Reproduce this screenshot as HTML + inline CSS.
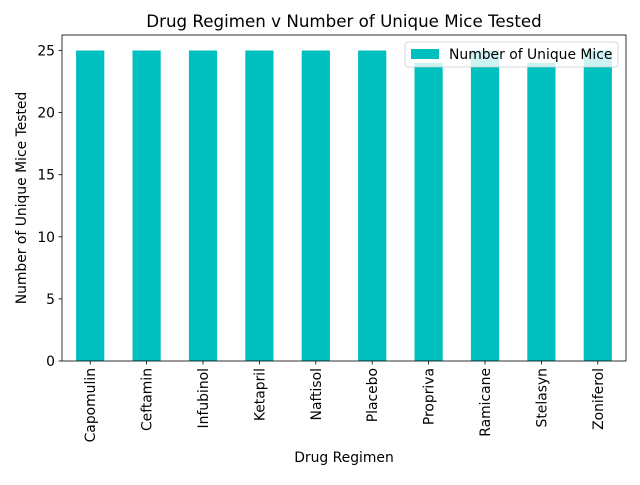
<!DOCTYPE html>
<html><head><meta charset="utf-8"><style>body{margin:0;background:#fff}svg{font-family:"DejaVu Sans","Liberation Sans",sans-serif}</style></head>
<body>
<svg id="c" width="640" height="480" viewBox="0 0 640 480"></svg>
<script>
const categories=["Capomulin","Ceftamin","Infubinol","Ketapril","Naftisol","Placebo","Propriva","Ramicane","Stelasyn","Zoniferol"];
const values=[25,25,25,25,25,25,24,25,24,25];
const yTicks=[0,5,10,15,20,25];
const NS="http://www.w3.org/2000/svg";
const svg=document.getElementById('c');
const L=62,R=626,T=35,B=361,yMax=26.25;
const slot=(R-L)/categories.length;
const xc=i=>L+slot*(i+0.5);
const y=v=>B-(v/yMax)*(B-T);
function mk(t,a,p){const e=document.createElementNS(NS,t);for(const k in a)e.setAttribute(k,a[k]);(p||svg).appendChild(e);return e;}
categories.forEach((c,i)=>{
 const r=mk('rect',{x:xc(i)-slot/4,y:y(values[i]),width:slot/2,height:B-y(values[i]),fill:'#00bfbf'});
 
 
 mk('line',{x1:xc(i),x2:xc(i),y1:B,y2:B+3.5,stroke:'#000','stroke-width':0.8});
 const t=mk('text',{x:0,y:0,'font-size':13.9,'text-anchor':'end',transform:`translate(${xc(i)+5},${B+7}) rotate(-90)`});
 t.textContent=c;
 
 
});
yTicks.forEach(v=>{
 mk('line',{x1:L-3.5,x2:L,y1:y(v),y2:y(v),stroke:'#000','stroke-width':0.8});
 const t=mk('text',{x:L-7,y:y(v)+5,'font-size':13.9,'text-anchor':'end'});
 t.textContent=v;
 
 
});
mk('rect',{x:L,y:T,width:R-L,height:B-T,fill:'none',stroke:'#000','stroke-width':0.8});
</script>
<svg width="640" height="480" style="position:absolute;left:0;top:0">
<text x="344" y="27" font-size="16.7" text-anchor="middle">Drug Regimen v Number of Unique Mice Tested</text>
<text x="344" y="462" font-size="13.9" text-anchor="middle">Drug Regimen</text>
<text transform="translate(26,198) rotate(-90)" font-size="13.9" text-anchor="middle">Number of Unique Mice Tested</text>
<g>
<rect x="405" y="42" width="213" height="25" rx="3" fill="#fff" fill-opacity="0.8" stroke="#ccc" stroke-width="0.8"/>
<rect x="411" y="49" width="28" height="10" fill="#00bfbf"/>
<text x="449" y="59" font-size="13.9">Number of Unique Mice</text>
</g>
</svg>
</body></html>
